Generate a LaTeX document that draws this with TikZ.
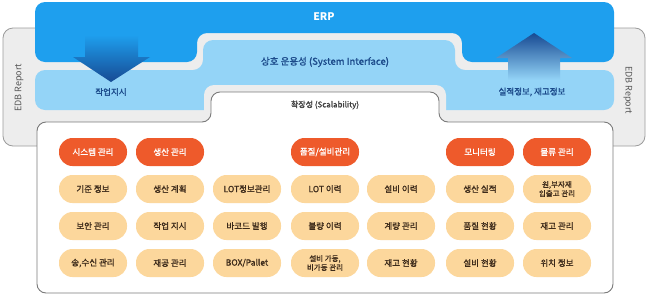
\documentclass[tikz,border=0pt]{standalone}
\usepackage{fontspec}
\setmainfont{Noto Sans CJK KR}
\newfontfamily\krmed[FakeBold=1.2]{Noto Sans CJK KR}
\definecolor{erpb}{HTML}{1E9FEE}
\definecolor{skyb}{HTML}{94D4F7}
\definecolor{frm}{HTML}{EDEDED}
\definecolor{frmd}{HTML}{9B9B9B}
\definecolor{boxd}{HTML}{7A7A7A}
\definecolor{hdrorg}{HTML}{EE5A2B}
\definecolor{cellorg}{HTML}{FCD79C}
\definecolor{ink}{HTML}{3C2A1A}
\definecolor{navy}{HTML}{1B4A8A}
\definecolor{arrd}{HTML}{174A93}
\definecolor{arrm}{HTML}{2766B0}

\begin{document}
\begin{tikzpicture}[
  x=1pt, y=-1pt,
  mod/.style={rounded corners=13.5pt, minimum width=68pt, minimum height=28pt,
    inner sep=1pt, align=center, font=\krmed\fontsize{8.5}{9.5}\selectfont},
  modhead/.style={mod, fill=hdrorg, text=white},
  modcell/.style={mod, fill=cellorg, text=ink},
  twoline/.style={font=\krmed\fontsize{7.5}{9}\selectfont},
  lay/.style={font=\krmed\fontsize{8.5}{10}\selectfont, text=navy},
  side/.style={font=\fontsize{9}{10}\selectfont, text=black!65}
]
\useasboundingbox (0,0) rectangle (648,298);

% EDB frame
\draw[frmd, fill=frm, line width=0.8pt, rounded corners=10] (3,28) rectangle (645,146);
\node[side, rotate=90] (edbl) at (19,88) {EDB Report};
\node[side, rotate=-90] (edbr) at (628,90) {EDB Report};

% ERP layer
\fill[erpb, rounded corners=10] (35,30) -- (35,2) -- (614,2) -- (614,62) -- (462,62)
  -- (462,33) -- (197,33) -- (197,62) -- (35,62) -- cycle;
\node[font=\bfseries\fontsize{10.5}{12}\selectfont, text=white] (erp) at (324,17) {ERP};

% interface layer
\fill[skyb, rounded corners=10] (35,90) -- (35,70) -- (203,70) -- (203,40) -- (455,40)
  -- (455,70) -- (614,70) -- (614,110) -- (35,110) -- cycle;
\fill[frm, rounded corners=10] (204,85) rectangle (446,130);
\node[lay, font=\krmed\fontsize{9.5}{11}\selectfont] (sif) at (325,62) {상호 운용성 (System Interface)};

% arrows
\shade[top color=erpb, middle color=arrm, bottom color=arrd] (85,35) -- (138,35) -- (138,57)
  -- (150,57) -- (111,82) -- (73,57) -- (85,57) -- cycle;
\shade[top color=arrd, middle color=arrm, bottom color=skyb] (534,33) -- (572,58) -- (560,58)
  -- (560,80) -- (508,80) -- (508,58) -- (496,58) -- cycle;
\node[lay] (ord) at (111,92) {작업지시};
\node[lay] (res) at (532,92) {실적정보, 재고정보};

% scalability box
\draw[boxd, fill=white, line width=0.9pt, rounded corners=9] (37,200) -- (37,122) -- (211,122)
  -- (211,92) -- (439,92) -- (439,122) -- (613,122) -- (613,293) -- (37,293) -- cycle;
\shade[left color=white, middle color=black!22, right color=white] (215,119.5) rectangle (435,122);
\node[font=\krmed\fontsize{8}{10}\selectfont, text=black!75] (scal) at (325,105) {확장성 (Scalability)};

% modules
\node[modhead] (h1) at (93,152) {시스템 관리};
\node[modhead] (h2) at (170,152) {생산 관리};
\node[modhead] (h4) at (325,152) {품질/설비관리};
\node[modhead] (h6) at (480,152) {모니터링};
\node[modhead] (h7) at (557,152) {물류 관리};

\node[modcell] (c11) at (93,189) {기준 정보};
\node[modcell] (c12) at (170,189) {생산 계획};
\node[modcell] (c13) at (247,189) {LOT정보관리};
\node[modcell] (c14) at (325,189) {LOT 이력};
\node[modcell] (c15) at (401,189) {설비 이력};
\node[modcell] (c16) at (480,189) {생산 실적};
\node[modcell, twoline] (c17) at (557,189) {원,부자재\\입출고 관리};

\node[modcell] (c21) at (93,226) {보안 관리};
\node[modcell] (c22) at (170,226) {작업 지시};
\node[modcell] (c23) at (247,226) {바코드 발행};
\node[modcell] (c24) at (325,226) {불량 이력};
\node[modcell] (c25) at (401,226) {계량 관리};
\node[modcell] (c26) at (480,226) {품질 현황};
\node[modcell] (c27) at (557,226) {재고 관리};

\node[modcell] (c31) at (93,263) {송,수신 관리};
\node[modcell] (c32) at (170,263) {재공 관리};
\node[modcell] (c33) at (247,263) {BOX/Pallet};
\node[modcell, twoline] (c34) at (325,263) {설비 가동,\\비가동 관리};
\node[modcell] (c35) at (401,263) {재고 현황};
\node[modcell] (c36) at (480,263) {설비 현황};
\node[modcell] (c37) at (557,263) {위치 정보};
\end{tikzpicture}
\end{document}
